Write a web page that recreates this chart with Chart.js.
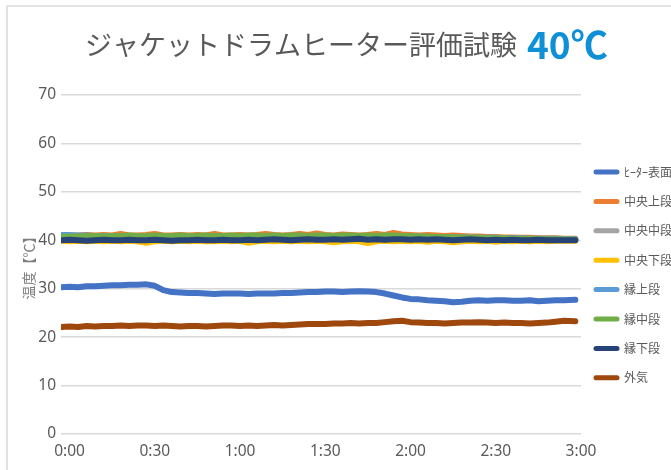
<!DOCTYPE html>
<html lang="ja">
<head>
<meta charset="utf-8">
<style>
  html, body { margin: 0; padding: 0; background: #fff; }
  #wrap { width: 671px; height: 470px; }
</style>
</head>
<body>
<div id="wrap"><canvas id="myLineChart" width="671" height="470"></canvas></div>
<script src="https://cdn.jsdelivr.net/npm/chart.js@4.4.1/dist/chart.umd.min.js"></script>
<script>
// elapsed minutes (the logger started a little before 0:00)
const times = [-3, 0, 3, 6, 9, 12, 15, 18, 21, 24,
  27, 30, 33, 36, 39, 42, 45, 48, 51, 54,
  57, 60, 63, 66, 69, 72, 75, 78, 81, 84,
  87, 90, 93, 96, 99, 102, 105, 108, 111, 114,
  117, 120, 123, 126, 129, 132, 135, 138, 141, 144,
  147, 150, 153, 156, 159, 162, 165, 168, 171, 174,
  178];

const seriesNames = ['ﾋｰﾀｰ表面', '中央上段', '中央中段', '中央下段', '縁上段', '縁中段', '縁下段', '外気'];
const seriesColors = ['#4472c4', '#ed7d31', '#a5a5a5', '#ffc000', '#5b9bd5', '#70ad47', '#264478', '#9e480e'];

const heater = [30.3, 30.4, 30.3, 30.5, 30.5, 30.6, 30.7, 30.7, 30.8, 30.8,
  30.9, 30.6, 29.7, 29.3, 29.2, 29.1, 29.1, 29.0, 28.9, 29.0,
  29.0, 29.0, 28.9, 29.0, 29.0, 29.0, 29.1, 29.1, 29.2, 29.3,
  29.3, 29.4, 29.4, 29.3, 29.4, 29.5, 29.4, 29.3, 29.0, 28.6,
  28.2, 27.9, 27.8, 27.6, 27.5, 27.4, 27.2, 27.3, 27.5, 27.6,
  27.5, 27.6, 27.6, 27.5, 27.5, 27.6, 27.4, 27.5, 27.6, 27.6,
  27.7];
const centerTop = [40.9, 41.0, 41.0, 41.1, 41.0, 41.1, 41.0, 41.3, 41.0, 41.0,
  41.1, 41.3, 41.0, 41.0, 41.1, 41.0, 41.1, 41.0, 41.3, 41.0,
  41.0, 41.1, 41.0, 41.1, 41.3, 41.1, 41.0, 41.1, 41.3, 41.1,
  41.4, 41.1, 41.0, 41.2, 41.1, 41.0, 41.1, 41.3, 41.1, 41.5,
  41.2, 41.1, 41.0, 41.1, 41.0, 40.9, 41.0, 40.9, 40.8, 40.8,
  40.7, 40.7, 40.6, 40.6, 40.5, 40.5, 40.4, 40.4, 40.4, 40.3,
  40.3];
const centerMid = [40.6, 40.7, 40.7, 40.6, 40.7, 40.8, 40.7, 40.7, 40.8, 40.7,
  40.7, 40.8, 40.7, 40.7, 40.8, 40.7, 40.7, 40.8, 40.7, 40.8,
  40.7, 40.8, 40.7, 40.8, 40.8, 40.7, 40.8, 40.7, 40.8, 40.8,
  40.7, 40.8, 40.8, 40.7, 40.8, 40.7, 40.8, 40.7, 40.7, 40.8,
  40.7, 40.7, 40.6, 40.6, 40.5, 40.5, 40.5, 40.4, 40.4, 40.4,
  40.3, 40.3, 40.3, 40.2, 40.2, 40.2, 40.2, 40.1, 40.1, 40.1,
  40.1];
const centerLow = [39.9, 39.8, 39.9, 39.8, 39.9, 39.8, 39.9, 39.8, 39.9, 39.8,
  39.5, 39.8, 39.9, 39.8, 39.9, 39.8, 39.9, 39.8, 39.8, 39.9,
  39.8, 39.9, 39.5, 39.8, 39.9, 39.8, 39.9, 39.8, 39.9, 39.8,
  39.9, 39.8, 39.6, 39.8, 39.9, 39.8, 39.4, 39.8, 39.9, 39.8,
  39.9, 39.8, 39.9, 39.7, 39.9, 39.8, 39.6, 39.8, 39.9, 39.8,
  39.9, 39.7, 39.9, 39.8, 39.9, 39.8, 39.9, 39.8, 39.9, 39.9,
  39.9];
const edgeTop = [41.1, 41.1, 41.0, 41.0, 40.9, 40.9, 40.9, 40.8, 40.9, 40.9,
  40.8, 40.9, 40.9, 40.8, 40.9, 40.9, 40.8, 40.9, 40.9, 40.8,
  40.9, 40.9, 40.8, 40.9, 40.9, 40.9, 40.8, 40.9, 40.9, 40.8,
  40.9, 40.9, 40.8, 40.9, 40.9, 40.8, 40.9, 40.8, 40.9, 40.9,
  40.8, 40.8, 40.8, 40.7, 40.7, 40.7, 40.6, 40.6, 40.6, 40.5,
  40.5, 40.5, 40.4, 40.4, 40.4, 40.3, 40.3, 40.3, 40.3, 40.2,
  40.2];
const edgeMid = [40.7, 40.8, 40.8, 40.9, 40.9, 40.8, 40.9, 40.9, 41.0, 40.9,
  40.9, 41.0, 40.9, 40.9, 41.0, 40.9, 40.9, 41.0, 40.9, 40.9,
  41.0, 40.9, 41.0, 41.0, 40.9, 41.0, 40.9, 41.0, 41.0, 40.9,
  41.0, 41.0, 40.9, 41.0, 41.0, 40.9, 41.0, 40.9, 41.0, 41.0,
  40.9, 40.9, 40.8, 40.8, 40.7, 40.7, 40.6, 40.6, 40.5, 40.5,
  40.4, 40.4, 40.4, 40.3, 40.3, 40.3, 40.2, 40.2, 40.2, 40.2,
  40.1];
const edgeLow = [40.0, 40.1, 40.0, 39.9, 40.0, 40.1, 40.0, 40.0, 40.1, 40.0,
  40.0, 40.1, 40.0, 39.9, 40.0, 40.0, 40.1, 40.0, 40.0, 40.1,
  40.0, 40.0, 40.1, 40.0, 40.1, 40.2, 40.1, 40.0, 40.1, 40.2,
  40.1, 40.1, 40.2, 40.1, 40.2, 40.3, 40.1, 40.2, 40.1, 40.2,
  40.2, 40.1, 40.2, 40.1, 40.2, 40.1, 40.0, 40.1, 40.2, 40.1,
  40.0, 40.1, 40.0, 40.1, 40.0, 40.0, 40.1, 40.0, 40.0, 40.0,
  40.0];
const outside = [22.1, 22.2, 22.1, 22.3, 22.2, 22.3, 22.3, 22.4, 22.3, 22.4,
  22.4, 22.3, 22.4, 22.3, 22.2, 22.3, 22.3, 22.2, 22.3, 22.4,
  22.4, 22.3, 22.4, 22.3, 22.4, 22.5, 22.4, 22.5, 22.6, 22.7,
  22.7, 22.7, 22.8, 22.8, 22.9, 22.8, 22.9, 22.9, 23.1, 23.3,
  23.4, 23.1, 23.0, 22.9, 22.9, 22.8, 22.9, 23.0, 23.0, 23.1,
  23.0, 22.9, 23.0, 22.9, 22.9, 22.8, 22.9, 23.0, 23.2, 23.4,
  23.3];

const seriesValues = [heater, centerTop, centerMid, centerLow, edgeTop, edgeMid, edgeLow, outside];
const xTicks = [0, 30, 60, 90, 120, 150, 180];

const titleMain = 'ジャケットドラムヒーター評価試験';
const titleAccent = '40℃';
const yTitle = '温度【℃】';

const JP = '"Noto Sans CJK JP", "Noto Sans", sans-serif';

// frame + title, drawn straight on the canvas
const decorPlugin = {
  id: 'decor',
  beforeDraw(chart) {
    const ctx = chart.ctx;
    ctx.save();
    ctx.fillStyle = '#ffffff';
    ctx.fillRect(0, 0, chart.width, chart.height);
    ctx.strokeStyle = '#d9d9d9';
    ctx.lineWidth = 1.5;
    ctx.beginPath();
    ctx.moveTo(7, chart.height);
    ctx.lineTo(7, 6);
    ctx.lineTo(chart.width, 6);
    ctx.stroke();

    ctx.textBaseline = 'middle';
    ctx.textAlign = 'left';
    ctx.font = '27px ' + JP;
    ctx.fillStyle = '#595959';
    ctx.fillText(titleMain, 85, 45);
    const w = ctx.measureText(titleMain).width;
    ctx.font = 'bold 37px ' + JP;
    ctx.fillStyle = '#0e90d6';
    ctx.fillText(titleAccent, 85 + w + 10, 45);
    ctx.restore();
  }
};

// legend on the right, line samples with round ends
const legendPlugin = {
  id: 'sideLegend',
  afterDraw(chart) {
    const ctx = chart.ctx;
    ctx.save();
    ctx.font = '12px ' + JP;
    ctx.textBaseline = 'middle';
    ctx.textAlign = 'left';
    chart.data.datasets.forEach((ds, i) => {
      const y = 172 + i * 29.4;
      ctx.strokeStyle = ds.borderColor;
      ctx.lineWidth = 5;
      ctx.lineCap = 'round';
      ctx.beginPath();
      ctx.moveTo(596, y);
      ctx.lineTo(617, y);
      ctx.stroke();
      ctx.fillStyle = '#595959';
      ctx.fillText(ds.label, 624, y);
    });
    ctx.restore();
  }
};

const ctx = document.getElementById('myLineChart').getContext('2d');

const myLineChart = new Chart(ctx, {
  type: 'line',
  data: {
    datasets: seriesNames.map((name, i) => ({
      label: name,
      data: times.map((t, j) => ({ x: t, y: seriesValues[i][j] })),
      borderColor: seriesColors[i],
      backgroundColor: seriesColors[i],
      borderWidth: 6,
      borderCapStyle: 'round',
      borderJoinStyle: 'round',
      pointRadius: 0,
      tension: 0,
      order: seriesNames.length - 1 - i, // later series on top, like Excel
    })),
  },
  options: {
    responsive: false,
    animation: false,
    devicePixelRatio: 1,
    layout: { padding: { top: 95, right: 90, bottom: 0, left: 0 } },
    plugins: {
      legend: { display: false },
      tooltip: { enabled: false },
      title: { display: false },
    },
    scales: {
      x: {
        type: 'linear',
        min: -3,
        max: 180,
        afterBuildTicks: (scale) => { scale.ticks = xTicks.map(v => ({ value: v })); },
        afterFit: (scale) => { scale.height = 36; },
        grid: { display: false, drawTicks: false },
        border: { display: false },
        ticks: {
          padding: 8,
          maxRotation: 0,
          autoSkip: false,
          color: '#595959',
          font: { family: '"Noto Sans", sans-serif', size: 15.5 },
          callback: (v) => Math.floor(v / 60) + ':' + String(v % 60).padStart(2, '0'),
        },
      },
      y: {
        min: 0,
        max: 70,
        afterFit: (scale) => { scale.width = 61; },
        grid: { color: '#d9d9d9', lineWidth: 1.5, drawTicks: false },
        border: { display: false },
        ticks: {
          stepSize: 10,
          padding: 5,
          color: '#595959',
          font: { family: '"Noto Sans", sans-serif', size: 15.5 },
        },
        title: {
          display: true,
          text: yTitle,
          color: '#7f7f7f',
          padding: { top: 20, bottom: 0 },
          font: { family: JP, size: 14 },
        },
      },
    },
  },
  plugins: [decorPlugin, legendPlugin],
});
</script>
</body>
</html>
